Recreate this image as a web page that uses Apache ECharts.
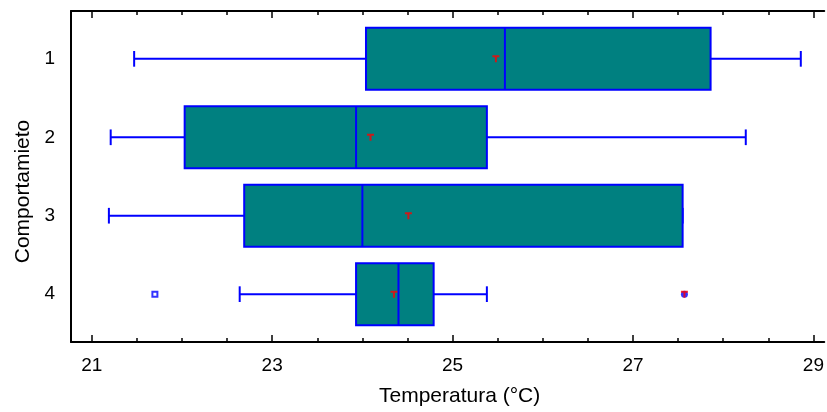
<!DOCTYPE html>
<html>
<head>
<meta charset="utf-8">
<script src="https://cdn.jsdelivr.net/npm/echarts@6/dist/echarts.min.js"></script>
<style>html,body{margin:0;padding:0;background:#fff;}#c{width:827px;height:412px;}</style>
</head>
<body>
<div id="c"></div>
<script>
// ---- data ----
const categories = [1, 2, 3, 4];
// [min whisker, Q1, median, Q3, max whisker]
const boxStats = [
  [21.47, 24.04, 25.58, 27.86, 28.86],
  [21.21, 22.03, 23.93, 25.38, 28.25],
  [21.19, 22.69, 24.00, 27.55, 27.55],
  [22.64, 23.93, 24.40, 24.79, 25.38]
];
const means = [25.48, 24.09, 24.51, 24.35];
const outsidePoints = [[21.70, 4]];
const farOutsidePoints = [[27.57, 4]];
const majorTicks = [21, 23, 25, 27, 29];
const minorTicks = [21, 21.5, 22, 22.5, 23, 23.5, 24, 24.5, 25, 25.5, 26, 26.5, 27, 27.5, 28, 28.5, 29];
const xTitle = 'Temperatura (°C)';
const yTitle = 'Comportamieto';

// ---- styles ----
const FONT = "'Liberation Sans', Arial, sans-serif";
const BLUE = '#0000FF';
const TEAL = '#008080';
const RED = '#FF0000';
const XMIN = 20.77, XMAX = 29.12, YMIN = 0.39, YMAX = 4.61;
const BOX_H = 0.79, CAP_H = 0.2;

const chart = echarts.init(document.getElementById('c'), null, {renderer: 'canvas'});

const boxData = boxStats.map((s, i) => [categories[i]].concat(s));
const meanData = means.map((m, i) => [m, categories[i]]);

function xAxisBase(pos, showLine, ticks, len, showLabel) {
  return {
    type: 'value', position: pos, min: XMIN, max: XMAX, gridIndex: 0,
    axisLine: {show: showLine, onZero: false, lineStyle: {color: '#000', width: 2}},
    axisTick: {show: true, inside: true, length: len, customValues: ticks, lineStyle: {color: '#000', width: 1.5}},
    axisLabel: showLabel ? {show: true, customValues: majorTicks, margin: 14, color: '#000', fontSize: 19, fontFamily: FONT} : {show: false},
    splitLine: {show: false}
  };
}

const xAxes = [
  Object.assign(xAxisBase('bottom', true, minorTicks, 4, true), {
    name: xTitle, nameLocation: 'middle', nameGap: 44,
    nameTextStyle: {color: '#000', fontSize: 21, fontFamily: FONT, padding: [0, 0, 0, 24]}
  }),
  xAxisBase('bottom', false, majorTicks, 7, false),
  xAxisBase('top', true, minorTicks, 4, false),
  xAxisBase('top', false, majorTicks, 7, false)
];

const option = {
  animation: false,
  backgroundColor: '#fff',
  grid: {left: 71, right: 0, top: 11, bottom: 69, containLabel: false},
  xAxis: xAxes,
  yAxis: {
    type: 'value', inverse: true, min: YMIN, max: YMAX,
    axisLine: {show: true, onZero: false, lineStyle: {color: '#000', width: 2}},
    axisTick: {show: false},
    axisLabel: {show: true, customValues: categories, margin: 16, color: '#000', fontSize: 19, fontFamily: FONT},
    splitLine: {show: false},
    name: yTitle, nameLocation: 'middle', nameRotate: 90, nameGap: 37,
    nameTextStyle: {color: '#000', fontSize: 21, fontFamily: FONT, padding: [0, 30, 0, 0]}
  },
  series: [
    {
      type: 'custom',
      xAxisIndex: 0,
      data: boxData,
      encode: {y: 0, x: [1, 2, 3, 4, 5]},
      renderItem: function (params, api) {
        const cat = api.value(0);
        const mn = api.coord([api.value(1), cat]);
        const q1 = api.coord([api.value(2), cat]);
        const md = api.coord([api.value(3), cat]);
        const q3 = api.coord([api.value(4), cat]);
        const mx = api.coord([api.value(5), cat]);
        const hh = api.size([0, BOX_H])[1] / 2;
        const ch = api.size([0, CAP_H])[1] / 2;
        const y = q1[1];
        const ls = {stroke: BLUE, lineWidth: 2, fill: null};
        const children = [
          {type: 'line', shape: {x1: mn[0], y1: y, x2: q1[0], y2: y}, style: ls},
          {type: 'line', shape: {x1: q3[0], y1: y, x2: mx[0], y2: y}, style: ls},
          {type: 'line', shape: {x1: mn[0], y1: y - ch, x2: mn[0], y2: y + ch}, style: ls},
          {type: 'line', shape: {x1: mx[0], y1: y - ch, x2: mx[0], y2: y + ch}, style: ls},
          {type: 'rect', shape: {x: q1[0], y: y - hh, width: q3[0] - q1[0], height: 2 * hh},
           style: {fill: TEAL, stroke: BLUE, lineWidth: 2}},
          {type: 'line', shape: {x1: md[0], y1: y - hh, x2: md[0], y2: y + hh}, style: ls}
        ];
        return {type: 'group', children: children};
      },
      z: 2
    },
    {
      type: 'scatter', xAxisIndex: 0, data: outsidePoints,
      symbol: 'rect', symbolSize: 5,
      itemStyle: {color: '#fff', borderColor: BLUE, borderWidth: 2},
      z: 3
    },
    {
      type: 'scatter', xAxisIndex: 0, data: farOutsidePoints,
      symbol: 'circle', symbolSize: 7,
      itemStyle: {color: BLUE},
      z: 3
    },
    {
      type: 'scatter', xAxisIndex: 0, data: meanData.concat(farOutsidePoints),
      symbol: 'path://M0,0 H7 V2 H4.5 V7 H2.5 V2 H0 Z', symbolSize: [7, 7],
      itemStyle: {color: RED},
      z: 4
    }
  ]
};
chart.setOption(option);
</script>
</body>
</html>
